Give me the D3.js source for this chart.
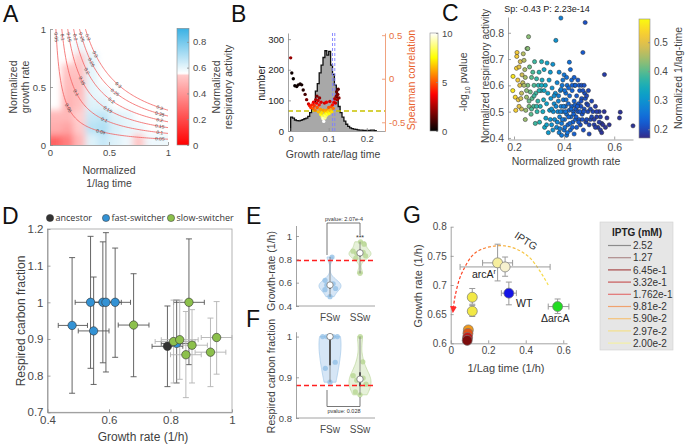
<!DOCTYPE html>
<html><head><meta charset="utf-8">
<script src="https://cdnjs.cloudflare.com/ajax/libs/d3/7.8.5/d3.min.js"></script>
<style>body{margin:0;background:#fff;overflow:hidden}</style>
</head><body>
<svg id="fig" width="685" height="445" xmlns="http://www.w3.org/2000/svg"></svg>
<script>
// ================= DATA =================
// ---- Panel A ----
const aAxisTicks = [0, 0.5, 1];
const aContourLevels = [0.05, 0.1, 0.15, 0.2, 0.25, 0.3];
const aCell = 0.1;
// rows: normalized growth rate bins (0..0.1, 0.1..0.2, ...); cols: normalized 1/lag bins
const aGrid = [
  [0.08, 0.18, 0.40, 0.64, 0.70, 0.64, 0.60, 0.46, 0.60, 0.60],
  [0.36, 0.32, 0.48, 0.74, 0.76, 0.66, 0.62, 0.60, null, null],
  [0.40, 0.40, 0.50, 0.70, 0.72, 0.64, 0.62, null, null, null],
  [null, 0.38, 0.44, 0.64, 0.64, null, null, null, null, null],
  [null, 0.40, 0.42, 0.62, 0.60, null, null, null, null, null],
  [null, 0.42, 0.42, 0.62, null, null, null, null, null, null],
  [null, 0.45, 0.45, 0.62, null, null, null, null, null, null],
  [null, null, 0.48, 0.62, null, null, null, null, null, null],
  [null, null, 0.60, null, null, null, null, null, null, null],
  [null, null, null, null, null, null, null, null, null, null]
];
const aCbarTicks = [0, 0.2, 0.4, 0.6, 0.8];

// ---- Panel B ----
const bBinStart = 0, bBinWidth = 0.005;
const bHistCounts = [45,42,36,34,33,35,37,40,42,48,60,72,95,130,155,190,215,240,262,248,260,215,185,150,110,80,60,45,32,22,15,10,8,6,5,4,3,3,2,2,2,2,3,3,1];
const bCorrX = [0.000,0.003,0.007,0.011,0.016,0.020,0.025,0.029,0.033,0.038,0.042,0.047,
  0.050,0.053,0.056,0.058,0.060,0.062,0.064,0.066,0.068,0.069,0.070,0.072,0.073,0.075,0.076,0.078,0.079,0.080,0.082,0.083,0.085,0.086,0.087,0.088,0.089,0.090,0.091,0.092,0.093,0.094,0.095,0.096,0.098,0.100,0.101,0.103,0.104,0.106,0.108,0.110,0.112,0.114,0.116,0.118,0.120,0.121,0.122,0.124,0.125,0.127];
const bCorrY = [0.24,0.065,0.00,-0.08,-0.09,-0.07,-0.06,-0.07,-0.13,-0.18,-0.24,-0.29,
  -0.31,-0.33,-0.30,-0.34,-0.27,-0.31,-0.36,-0.24,-0.28,-0.20,-0.33,-0.25,-0.38,-0.30,-0.22,-0.35,-0.41,-0.27,-0.39,-0.44,-0.46,-0.36,-0.49,-0.42,-0.28,-0.45,-0.38,-0.43,-0.40,-0.27,-0.36,-0.41,-0.38,-0.33,-0.40,-0.26,-0.36,-0.32,-0.38,-0.30,-0.34,-0.27,-0.23,-0.28,-0.20,-0.15,-0.24,-0.18,-0.12,-0.22];
const bCorrP = [2.2,0.2,0.1,0.1,0.2,0.2,0.3,0.3,0.5,1.0,1.8,3.0,
  4.0,4.5,4.2,5.0,3.5,4.5,5.5,2.5,3.5,1.8,5.0,3.0,6.5,4.0,2.2,6.0,7.5,3.2,7.0,8.5,9.5,6.0,10,8.0,3.0,9.0,6.5,8.5,7.5,3.5,6.0,8.0,7.0,5.0,7.5,3.0,6.5,5.0,7.0,4.0,5.5,3.5,2.5,3.0,2.0,1.5,2.5,1.8,1.2,2.0];
const bMeanLines = [0.110, 0.116];
const bThreshold = -0.37;
const bLeftTicks = [0, 100, 200, 300];
const bRightTicks = [-0.5, 0, 0.5];
const bXTicks = [0, 0.1, 0.2];
const bCbarTicks = [0, 5, 10];

// ---- Panel C ---- [growth rate, respiratory activity, 1/lag]
const cPoints = [
 [0.195,0.58,0.56],[0.196,0.634,0.56],[0.205,0.555,0.54],[0.207,0.505,0.53],[0.21,0.665,0.53],[0.211,0.71,0.52],[0.212,0.725,0.52],[0.215,0.62,0.52],[0.217,0.545,0.51],[0.22,0.67,0.5],[0.223,0.6,0.5],[0.225,0.69,0.49],[0.227,0.55,0.48],[0.23,0.51,0.48],[0.232,0.64,0.48],[0.235,0.61,0.47],[0.237,0.72,0.46],[0.24,0.695,0.46],[0.243,0.66,0.45],[0.245,0.63,0.45],[0.247,0.505,0.44],[0.25,0.555,0.44],[0.252,0.74,0.43],[0.255,0.74,0.43],
 [0.245,0.47,0.44],[0.255,0.6,0.42],[0.258,0.785,0.43],[0.26,0.52,0.42],[0.262,0.67,0.41],[0.265,0.575,0.41],[0.268,0.49,0.4],[0.27,0.63,0.4],[0.272,0.55,0.4],[0.275,0.65,0.39],[0.278,0.52,0.39],[0.28,0.6,0.39],[0.282,0.69,0.38],[0.285,0.455,0.38],[0.287,0.57,0.38],[0.29,0.625,0.37],[0.292,0.5,0.37],[0.295,0.54,0.37],[0.297,0.6,0.36],[0.3,0.65,0.36],
 [0.302,0.46,0.36],[0.305,0.52,0.35],[0.308,0.58,0.35],[0.31,0.69,0.35],[0.312,0.62,0.34],[0.315,0.5,0.34],[0.318,0.545,0.34],[0.32,0.66,0.33],[0.322,0.44,0.33],[0.325,0.6,0.33],[0.327,0.475,0.32],[0.33,0.53,0.32],[0.332,0.685,0.32],[0.335,0.57,0.32],[0.337,0.42,0.31],[0.34,0.62,0.31],[0.342,0.505,0.31],[0.345,0.65,0.31],[0.347,0.55,0.3],[0.35,0.45,0.3],[0.352,0.59,0.3],[0.355,0.68,0.3],[0.357,0.5,0.29],[0.36,0.53,0.29],[0.362,0.47,0.29],
 [0.365,0.57,0.29],[0.367,0.771,0.3],[0.37,0.44,0.28],[0.372,0.61,0.28],[0.375,0.5,0.28],[0.377,0.54,0.28],[0.38,0.42,0.27],[0.38,0.65,0.28],[0.382,0.48,0.27],[0.385,0.58,0.27],[0.387,0.856,0.27],[0.388,0.52,0.27],[0.39,0.455,0.26],[0.39,0.41,0.26],[0.392,0.6,0.26],[0.395,0.5,0.26],[0.397,0.545,0.26],[0.4,0.43,0.25],[0.4,0.64,0.26],[0.402,0.47,0.25],[0.405,0.52,0.25],[0.407,0.57,0.25],[0.41,0.41,0.25],[0.41,0.49,0.25],[0.412,0.6,0.25],[0.415,0.45,0.24],[0.417,0.53,0.24],[0.42,0.505,0.24],[0.421,0.688,0.25],[0.422,0.56,0.24],[0.425,0.43,0.24],[0.427,0.48,0.24],[0.43,0.62,0.24],[0.43,0.52,0.23],[0.432,0.58,0.23],[0.435,0.46,0.23],[0.437,0.5,0.23],[0.44,0.54,0.23],[0.44,0.415,0.23],[0.442,0.6,0.23],[0.445,0.47,0.23],[0.447,0.51,0.22],[0.45,0.56,0.22],[0.45,0.44,0.22],
 [0.455,0.5,0.22],[0.457,0.53,0.22],[0.46,0.47,0.22],[0.462,0.58,0.22],[0.465,0.45,0.21],[0.467,0.52,0.21],[0.47,0.55,0.21],[0.472,0.49,0.21],[0.475,0.725,0.22],[0.477,0.43,0.21],[0.48,0.51,0.21],[0.482,0.57,0.21],[0.484,0.839,0.21],[0.487,0.46,0.2],[0.49,0.53,0.2],[0.495,0.5,0.2],[0.5,0.415,0.2],[0.505,0.47,0.2],[0.51,0.54,0.2],[0.515,0.5,0.2],[0.52,0.45,0.19],[0.525,0.52,0.19],[0.53,0.48,0.19],[0.535,0.44,0.19],[0.54,0.5,0.19],[0.545,0.43,0.19],[0.55,0.455,0.19],[0.561,0.641,0.19],[0.571,0.476,0.18],[0.621,0.476,0.18],[0.624,0.498,0.18],[0.675,0.446,0.18],
 [0.368,0.52,0.28],[0.373,0.46,0.28],[0.378,0.56,0.27],[0.383,0.435,0.27],[0.386,0.5,0.27],[0.393,0.47,0.26],[0.398,0.52,0.26],[0.403,0.44,0.25],[0.406,0.5,0.25],[0.408,0.545,0.25],[0.413,0.42,0.25],[0.418,0.48,0.24],[0.423,0.455,0.24],[0.428,0.51,0.24],[0.433,0.44,0.23],[0.438,0.49,0.23],[0.443,0.525,0.23],[0.448,0.48,0.22],[0.453,0.52,0.22],[0.458,0.46,0.22],[0.463,0.5,0.22],[0.468,0.54,0.21],[0.473,0.47,0.21],[0.478,0.5,0.21],[0.485,0.55,0.21],[0.49,0.47,0.2],[0.495,0.525,0.2],[0.5,0.45,0.2],[0.505,0.51,0.2],[0.51,0.48,0.2],
 [0.388,0.585,0.27],[0.395,0.62,0.26],[0.402,0.58,0.25],[0.41,0.63,0.25],[0.418,0.59,0.24],[0.425,0.66,0.24],[0.432,0.6,0.23],[0.44,0.63,0.23],[0.445,0.6,0.23],[0.455,0.62,0.22],[0.46,0.6,0.22],[0.47,0.6,0.21],[0.475,0.58,0.21],[0.48,0.6,0.21],[0.49,0.56,0.2],[0.497,0.58,0.2],
 [0.345,0.47,0.3],[0.35,0.51,0.3],[0.355,0.43,0.3],[0.36,0.56,0.29],[0.33,0.45,0.32],[0.32,0.58,0.33],[0.31,0.6,0.34],[0.3,0.58,0.36],[0.29,0.52,0.37],[0.28,0.56,0.38],[0.27,0.51,0.39],[0.26,0.54,0.41],[0.25,0.58,0.43],[0.24,0.6,0.45],[0.23,0.57,0.47],[0.22,0.52,0.5],
 [0.52,0.47,0.19],[0.525,0.44,0.19],[0.53,0.5,0.19],[0.54,0.46,0.19],[0.545,0.48,0.19],[0.55,0.42,0.18],[0.555,0.45,0.18],[0.56,0.5,0.18],[0.565,0.44,0.18],[0.58,0.45,0.18]
];
const cXTicks = [0.2, 0.4, 0.6];
const cYTicks = [0.4, 0.5, 0.6, 0.7, 0.8];
const cCbarTicks = [0.2, 0.3, 0.4, 0.5];
const cTitle = "Sp: -0.43 P: 2.23e-14";

// ---- Panel D ----
const dGroups = ["ancestor", "fast-switcher", "slow-switcher"];
const dGroup = ["ancestor","fast-switcher","fast-switcher","fast-switcher","fast-switcher","fast-switcher","fast-switcher","fast-switcher",
  "slow-switcher","slow-switcher","slow-switcher","slow-switcher","slow-switcher","slow-switcher","slow-switcher","slow-switcher"];
const dGrowth = [0.79, 0.48, 0.54, 0.55, 0.58, 0.59, 0.62, 0.82, 0.68, 0.86, 0.81, 0.83, 0.85, 0.87, 0.93, 0.95];
const dGrowthLo = [0.74, 0.435, 0.49, 0.50, 0.54, 0.55, 0.58, 0.77, 0.63, 0.81, 0.75, 0.77, 0.80, 0.82, 0.88, 0.90];
const dGrowthHi = [0.84, 0.53, 0.59, 0.60, 0.63, 0.64, 0.67, 0.87, 0.73, 0.91, 0.88, 0.89, 0.90, 0.92, 0.98, 1.00];
const dResp = [0.880, 0.937, 1.0, 0.922, 1.0, 1.0, 1.0, 0.888, 0.938, 1.0, 0.893, 0.898, 0.857, 0.883, 0.864, 0.904];
const dRespLo = [0.77, 0.752, 0.82, 0.776, 0.835, 0.81, 0.85, 0.78, 0.797, 0.83, 0.78, 0.79, 0.74, 0.78, 0.77, 0.804];
const dRespHi = [0.99, 1.122, 1.18, 1.069, 1.165, 1.19, 1.148, 1.006, 1.078, 1.173, 1.006, 1.006, 0.975, 0.98, 0.957, 1.002];
const dXTicks = [0.4, 0.6, 0.8, 1];
const dYTicks = [0.7, 0.8, 0.9, 1, 1.1, 1.2];

// ---- Panels E/F ----
const efCategories = ["FSw", "SSw"];
const eThreshold = 0.79, fThreshold = 0.88;
const eYTicks = [0.4, 0.6, 0.8, 1];
const fYTicks = [0.8, 0.9, 1];
const ePText = "pvalue: 2.07e-4", fPText = "pvalue: 0.028";

// ---- Panel G ----
const gLag = [0.25, 0.29, 0.31, 0.57, 0.115, 0.115, 0.094, 0.092, 0.090, 0.088];
const gLagLo = [0.17, 0.05, 0.27, 0.52, 0.108, 0.108, null, null, null, null];
const gLagHi = [0.33, 0.53, 0.35, 0.63, 0.122, 0.122, null, null, null, null];
const gGrowth = [0.738, 0.731, 0.686, 0.663, 0.679, 0.655, 0.623, 0.617, 0.610, 0.605];
const gGrowthLo = [0.707, 0.715, 0.666, 0.651, 0.667, 0.646, null, null, null, null];
const gGrowthHi = [0.770, 0.748, 0.705, 0.676, 0.694, 0.665, null, null, null, null];
const gArc = [[0.52,0.700],[0.414,0.749],[0.29,0.767],[0.139,0.757],[0.059,0.72],[0.023,0.68],[0.014,0.66]];
const gXTicks = [0, 0.2, 0.4, 0.6];
const gYTicks = [0.6, 0.65, 0.7, 0.75, 0.8];
const gLegendTitle = "IPTG (mM)";
const gLegendLabels = ["2.52","1.27","6.45e-1","3.32e-1","1.762e-1","9.81e-2","5.90e-2","2.97e-2","2.00e-2"];

// ================= STYLES =================
const FONT = '"Liberation Sans", Arial, Helvetica, sans-serif';
const AX = '#8c8c8c', TX = '#4a4a4a', LB = '#3f3f3f';
const dColors = {"ancestor":"#333333","fast-switcher":"#3392d4","slow-switcher":"#8cc04c"};
const efFill = {"FSw":"#cfe2f4","SSw":"#e2eed2"};
const efStroke = {"FSw":"#a9cbea","SSw":"#c3dba6"};
const efDot = {"FSw":"#8dbde6","SSw":"#b4d48e"};
const gColors = ["#f6ee9e","#f6f1cf","#1414e6","#22dd22","#f2e845","#f2e845","#f29a1a","#e0541a","#c41a1a","#7d0c0c"];
const gLegendColors = ["#8c8c8c","#ae8c8c","#a84a4a","#c85858","#e27272","#f0a26e","#f4c27a","#f4e08a","#f4f0a4"];

// ================= HELPERS =================
const svg = d3.select('#fig').attr('font-family', FONT);
const defs = svg.append('defs');

function axis(g, kind, scale, ticks, o = {}) {
  const gen = {left: d3.axisLeft, right: d3.axisRight, bottom: d3.axisBottom, top: d3.axisTop}[kind](scale)
    .tickValues(ticks).tickFormat(o.fmt || (d => String(d)))
    .tickSizeInner(o.inner === undefined ? -3 : o.inner).tickSizeOuter(0).tickPadding(o.pad || 4);
  const a = g.append('g').attr('transform', o.tr || null).call(gen);
  a.attr('font-family', null).attr('font-size', null);
  a.select('.domain').attr('stroke', o.color || AX).attr('stroke-width', 0.8);
  a.selectAll('.tick line').attr('stroke', o.color || AX).attr('stroke-width', 0.8);
  a.selectAll('.tick text').attr('fill', o.textColor || TX).attr('font-size', o.fs || 10);
  return a;
}
function text(g, s, x, y, o = {}) {
  const t = g.append('text').attr('x', x).attr('y', y).attr('text-anchor', o.anchor || 'middle')
    .attr('font-size', o.fs || 11).attr('fill', o.fill || LB).text(s);
  if (o.rot !== undefined) t.attr('transform', `rotate(${o.rot},${x},${y})`);
  if (o.weight) t.attr('font-weight', o.weight);
  if (o.family) t.attr('font-family', o.family);
  return t;
}
function vgrad(id, fn, n) {
  const lg = defs.append('linearGradient').attr('id', id).attr('x1', 0).attr('y1', 1).attr('x2', 0).attr('y2', 0);
  for (let i = 0; i <= n; i++) lg.append('stop').attr('offset', i / n).attr('stop-color', fn(i / n));
}
function panelLetter(s, x, y) {
  text(svg, s, x, y, {anchor: 'start', fs: 23, fill: '#111'});
}
const parulaStops = ['#352a87','#0f5cdd','#1481d6','#06a4ca','#2eb7a4','#87bf77','#d1bb59','#fec832','#f9fb0e'];
const parulaI = d3.interpolateRgbBasis(parulaStops);
const parula = t => parulaI(Math.max(0, Math.min(1, t)));
const hot = t => { t = Math.max(0, Math.min(1, t));
  const r = Math.min(1, t / 0.375), g = Math.max(0, Math.min(1, (t - 0.375) / 0.375)), b = Math.max(0, (t - 0.75) / 0.25);
  return d3.rgb(r * 255, g * 255, b * 255).formatHex(); };

// ================= PANEL A =================
{
  const g = svg.append('g');
  const xA = d3.scaleLinear([0, 1], [50, 168]), yA = d3.scaleLinear([0, 1], [145, 29]);
  const colA = d3.scaleLinear([0, 0.54, 0.555, 0.905], ['#ff0000', '#ffcaca', '#ffffff', '#39b1e4']).clamp(true);
  defs.append('clipPath').attr('id', 'clipA').append('rect').attr('x', 50).attr('y', 29).attr('width', 118).attr('height', 116);
  const f = defs.append('filter').attr('id', 'blurA').attr('x', '-20%').attr('y', '-20%').attr('width', '140%').attr('height', '140%');
  f.append('feGaussianBlur').attr('stdDeviation', 3);
  const cells = [];
  aGrid.forEach((row, r) => row.forEach((v, c) => { if (v !== null) cells.push({r, c, v}); }));
  const nC = aGrid[0].length, nR = aGrid.length;
  g.append('g').attr('clip-path', 'url(#clipA)').append('g').attr('filter', 'url(#blurA)').attr('opacity', 0.68)
    .selectAll('rect').data(cells).join('rect')
    .attr('x', d => xA(d.c * aCell) - (d.c === 0 ? 8 : 0))
    .attr('width', d => xA(aCell) - xA(0) + 0.6 + (d.c === 0 ? 8 : 0) + (d.c === nC - 1 ? 8 : 0))
    .attr('y', d => yA((d.r + 1) * aCell) - (d.r === nR - 1 ? 8 : 0))
    .attr('height', d => yA(0) - yA(aCell) + 0.6 + (d.r === 0 ? 8 : 0))
    .attr('fill', d => colA(d.v));
  // contours  x*y = level
  const line = d3.line().x(d => xA(d[0])).y(d => yA(d[1]));
  const cg = g.append('g').attr('clip-path', 'url(#clipA)');
  aContourLevels.forEach(c => {
    const pts = d3.range(0, 81).map(i => { const x = c + (1 - c) * Math.pow(i / 80, 1.6); return [x, c / x]; });
    cg.append('path').attr('d', line(pts)).attr('fill', 'none').attr('stroke', '#f26060').attr('stroke-width', 0.8);
    const xs = [c / 0.93, 0.7 * Math.sqrt(c), 0.4 + 0.6 * c, 0.93];
    xs.forEach(x => {
      const y = c / x;
      const ang = Math.atan2(116 * c / (x * x), 118) * 180 / Math.PI;
      g.append('text').attr('transform', `translate(${xA(x)},${yA(y)}) rotate(${ang})`)
        .attr('text-anchor', 'middle').attr('dy', 1.7).attr('font-size', 4.8).attr('fill', '#444').text(String(c));
    });
  });
  axis(g, 'left', yA, aAxisTicks, {tr: 'translate(50,0)', fs: 9.5});
  axis(g, 'bottom', xA, aAxisTicks, {tr: 'translate(0,145)', fs: 9.5});
  text(g, 'Normalized', 17, 87, {rot: -90, fs: 10.5});
  text(g, 'growth rate', 29, 87, {rot: -90, fs: 10.5});
  text(g, 'Normalized', 109, 174, {fs: 10.5});
  text(g, '1/lag time', 109, 187, {fs: 10.5});
  // colorbar
  const cbY = d3.scaleLinear([0, 0.905], [145, 28.3]);
  vgrad('gradA', t => colA(t * 0.905), 200);
  g.append('rect').attr('x', 177).attr('y', 28.3).attr('width', 12).attr('height', 145 - 28.3).attr('fill', 'url(#gradA)').attr('stroke', AX).attr('stroke-width', 0.6);
  axis(g, 'right', cbY, aCbarTicks, {tr: 'translate(189,0)', inner: -2, fs: 9.5}).select('.domain').remove();
  text(g, 'Normalized', 220, 87, {rot: -90, fs: 10.5});
  text(g, 'respiratory activity', 232, 87, {rot: -90, fs: 10.5});
  panelLetter('A', 3, 22);
}

// ================= PANEL B =================
{
  const g = svg.append('g');
  const xB = d3.scaleLinear([-0.007, 0.248], [288, 385]);
  const yBL = d3.scaleLinear([0, 320], [131, 33]);
  const yBR = d3.scaleLinear([-0.6, 0.525], [131, 33]);
  let p = `M${xB(bBinStart)},${yBL(0)}`;
  bHistCounts.forEach((n, i) => {
    const x0 = bBinStart + i * bBinWidth, x1 = x0 + bBinWidth;
    p += `L${xB(x0)},${yBL(n)}L${xB(x1)},${yBL(n)}`;
  });
  p += `L${xB(bBinStart + bHistCounts.length * bBinWidth)},${yBL(0)}`;
  g.append('path').attr('d', p + 'Z').attr('fill', '#a8a8a8').attr('stroke', 'none');
  g.append('path').attr('d', p).attr('fill', 'none').attr('stroke', '#111').attr('stroke-width', 1.3);
  bMeanLines.forEach(v => g.append('line').attr('x1', xB(v)).attr('x2', xB(v)).attr('y1', 33).attr('y2', 131)
    .attr('stroke', '#7f7fff').attr('stroke-width', 0.9).attr('stroke-dasharray', '3,2'));
  g.append('line').attr('x1', 288).attr('x2', 385).attr('y1', yBR(bThreshold)).attr('y2', yBR(bThreshold))
    .attr('stroke', '#c9c200').attr('stroke-width', 1.4).attr('stroke-dasharray', '5,3');
  g.selectAll('circle.bc').data(bCorrX.map((x, i) => ({x, y: bCorrY[i], p: bCorrP[i]}))).join('circle')
    .attr('cx', d => xB(d.x)).attr('cy', d => yBR(d.y)).attr('r', 1.7).attr('fill', d => hot(d.p / 10));
  axis(g, 'left', yBL, bLeftTicks, {tr: 'translate(288,0)', textColor: '#222', fs: 9.5});
  axis(g, 'bottom', xB, bXTicks, {tr: 'translate(0,131)', fs: 9.5});
  axis(g, 'right', yBR, bRightTicks, {tr: 'translate(385,0)', color: '#ec8a5e', textColor: '#e8703e', fs: 9.5});
  text(g, 'number', 265, 83, {rot: -90, fs: 10.5, fill: '#222'});
  text(g, 'Spearman correlation', 415, 80, {rot: -90, fs: 10.5, fill: '#e8622e'});
  text(g, 'Growth rate/lag time', 333, 158, {fs: 10.5});
  // colorbar
  const cbY = d3.scaleLinear([0, 10], [131, 33]);
  vgrad('gradB', hot, 60);
  g.append('rect').attr('x', 430).attr('y', 33).attr('width', 8).attr('height', 98).attr('fill', 'url(#gradB)').attr('stroke', AX).attr('stroke-width', 0.6);
  axis(g, 'right', cbY, bCbarTicks, {tr: 'translate(438,0)', inner: -2, fs: 9.5}).select('.domain').remove();
  const t = g.append('text').attr('transform', 'translate(467,82) rotate(-90)').attr('text-anchor', 'middle').attr('font-size', 10.5).attr('fill', LB);
  t.append('tspan').text('-log');
  t.append('tspan').attr('font-size', 7).attr('dy', 3).text('10');
  t.append('tspan').attr('dy', -3).text(' pvalue');
  panelLetter('B', 231, 22);
}

// ================= PANEL C =================
{
  const g = svg.append('g');
  const xC = d3.scaleLinear([0.176, 0.675], [508, 633]);
  const yC = d3.scaleLinear([0.394, 0.86], [139.5, 17]);
  const cN = d3.scaleLinear([0.17, 0.58], [0, 1]);
  g.selectAll('circle').data(cPoints).join('circle')
    .attr('cx', d => xC(d[0])).attr('cy', d => yC(d[1])).attr('r', 2.1)
    .attr('fill', d => parula(cN(d[2]))).attr('stroke', '#2a2a2a').attr('stroke-width', 0.5);
  axis(g, 'left', yC, cYTicks, {tr: 'translate(508,0)', fs: 10.5});
  axis(g, 'bottom', xC, cXTicks, {tr: 'translate(0,139.5)', fs: 10.5});
  text(g, 'Normalized respiratory activity', 489, 76, {rot: -90, fs: 10});
  text(g, 'Normalized growth rate', 566, 165, {fs: 10.5});
  text(g, cTitle, 547, 12, {fs: 9, fill: '#222'});
  const cbY = d3.scaleLinear([0.17, 0.58], [138, 19]);
  vgrad('gradC', parula, 60);
  g.append('rect').attr('x', 639).attr('y', 19).attr('width', 11).attr('height', 119).attr('fill', 'url(#gradC)').attr('stroke', AX).attr('stroke-width', 0.6);
  axis(g, 'right', cbY, cCbarTicks, {tr: 'translate(650,0)', inner: -2, fs: 10}).select('.domain').remove();
  text(g, 'Normalized 1/lag-time', 682, 78, {rot: -90, fs: 10.5});
  panelLetter('C', 442, 21);
}

// ================= PANEL D =================
{
  const g = svg.append('g');
  const xD = d3.scaleLinear([0.4, 1], [47.5, 232]);
  const yD = d3.scaleLinear([0.7, 1.2], [412.3, 229]);
  g.append('rect').attr('x', 47.5).attr('y', 229).attr('width', 232 - 47.5).attr('height', 412.3 - 229)
    .attr('fill', 'none').attr('stroke', '#a0a0a0').attr('stroke-width', 0.8);
  axis(g, 'left', yD, dYTicks, {tr: 'translate(47.5,0)', fs: 11.5});
  axis(g, 'bottom', xD, dXTicks, {tr: 'translate(0,412.3)', fs: 11.5});
  const pts = dGrowth.map((x, i) => ({x, y: dResp[i], xl: dGrowthLo[i], xh: dGrowthHi[i], yl: dRespLo[i], yh: dRespHi[i], grp: dGroup[i]}));
  const eb = g.append('g');
  pts.forEach(d => {
    const col = (d.grp === 'slow-switcher' && d.x > 0.8 && d.y < 0.95) ? '#b3b3b3' : '#555';
    const cx = xD(d.x), cy = yD(d.y);
    eb.append('line').attr('x1', cx).attr('x2', cx).attr('y1', yD(d.yl)).attr('y2', yD(d.yh)).attr('stroke', col).attr('stroke-width', 0.9);
    [d.yl, d.yh].forEach(v => eb.append('line').attr('x1', cx - 3).attr('x2', cx + 3).attr('y1', yD(v)).attr('y2', yD(v)).attr('stroke', col).attr('stroke-width', 0.9));
    eb.append('line').attr('x1', xD(d.xl)).attr('x2', xD(d.xh)).attr('y1', cy).attr('y2', cy).attr('stroke', col).attr('stroke-width', 0.9);
    [d.xl, d.xh].forEach(v => eb.append('line').attr('x1', xD(v)).attr('x2', xD(v)).attr('y1', cy - 2.5).attr('y2', cy + 2.5).attr('stroke', col).attr('stroke-width', 0.9));
  });
  g.selectAll('circle.pt').data(pts).join('circle').attr('cx', d => xD(d.x)).attr('cy', d => yD(d.y)).attr('r', 4.2)
    .attr('fill', d => dColors[d.grp]).attr('stroke', '#333').attr('stroke-width', 0.6);
  const lx = [50, 106, 171];
  dGroups.forEach((s, i) => {
    g.append('circle').attr('cx', lx[i]).attr('cy', 218).attr('r', 3.6).attr('fill', dColors[s]).attr('stroke', '#333').attr('stroke-width', 0.5);
    text(g, s, lx[i] + 5.5, 221.2, {anchor: 'start', fs: 9, fill: '#333', family: '"Open Sans", sans-serif'});
  });
  text(g, 'Respired carbon fraction', 25, 321, {rot: -90, fs: 12});
  text(g, 'Growth rate (1/h)', 143, 441, {fs: 12});
  panelLetter('D', 2, 224);
}

// ================= PANELS E & F =================
function kde(vals, bw, lo, hi, n) {
  return d3.range(n + 1).map(i => { const y = lo + (hi - lo) * i / n;
    return [y, d3.sum(vals, v => Math.exp(-0.5 * ((y - v) / bw) ** 2))]; });
}
function violinPanel(g, yS, vals, bws, halfW) {
  const xE = d3.scalePoint().domain(efCategories).range([330, 360]);
  efCategories.forEach((cat, k) => {
    const v = vals[cat].slice().sort(d3.ascending);
    const lo = d3.min(v), hi = d3.max(v);
    const dens = kde(v, bws[k], lo, hi, 50);
    const mx = d3.max(dens, d => d[1]);
    const cx = xE(cat);
    const area = d3.area().y(d => yS(d[0])).x0(d => cx - halfW * d[1] / mx).x1(d => cx + halfW * d[1] / mx).curve(d3.curveBasis);
    g.append('path').attr('d', area(dens)).attr('fill', efFill[cat]).attr('fill-opacity', 0.85).attr('stroke', efStroke[cat]).attr('stroke-width', 0.8);
    v.forEach((val, i) => {
      const dd = d3.sum(v, u => Math.exp(-0.5 * ((val - u) / bws[k]) ** 2)) / mx;
      const off = [0, -0.55, 0.55, -0.3, 0.3, -0.7, 0.7, 0.1][i % 8] * halfW * dd;
      g.append('circle').attr('cx', cx + off).attr('cy', yS(val)).attr('r', 2.6).attr('fill', efDot[cat]).attr('fill-opacity', 0.75);
    });
    const q1 = d3.quantile(v, 0.25), q3 = d3.quantile(v, 0.75), med = d3.median(v);
    g.append('line').attr('x1', cx).attr('x2', cx).attr('y1', yS(lo)).attr('y2', yS(hi)).attr('stroke', '#777').attr('stroke-width', 0.8);
    g.append('line').attr('x1', cx).attr('x2', cx).attr('y1', yS(q1)).attr('y2', yS(q3)).attr('stroke', '#555').attr('stroke-width', 2);
    g.append('circle').attr('cx', cx).attr('cy', yS(med)).attr('r', 3.2).attr('fill', '#fff').attr('stroke', '#777').attr('stroke-width', 0.8);
  });
  return xE;
}
{
  const byGroup = (arr, grp) => arr.filter((_, i) => dGroup[i] === grp);
  const g = svg.append('g');
  const yE = d3.scaleLinear([0.4, 1.09], [306, 225.5]);
  const xE = violinPanel(g, yE, {FSw: byGroup(dGrowth, 'fast-switcher'), SSw: byGroup(dGrowth, 'slow-switcher')}, [0.035, 0.035], 11);
  g.append('line').attr('x1', 296).attr('x2', 375).attr('y1', yE(eThreshold)).attr('y2', yE(eThreshold))
    .attr('stroke', '#ff1f1f').attr('stroke-width', 1.5).attr('stroke-dasharray', '5,3');
  axis(g, 'left', yE, eYTicks, {tr: 'translate(296,0)', fs: 9.5});
  g.append('line').attr('x1', 296).attr('x2', 375).attr('y1', 306).attr('y2', 306).attr('stroke', AX).attr('stroke-width', 0.8);
  efCategories.forEach(c => text(g, c, xE(c), 321, {fs: 10, fill: TX}));
  g.append('path').attr('d', `M327,255V223H360V235`).attr('fill', 'none').attr('stroke', '#555').attr('stroke-width', 0.8);
  text(g, ePText, 344, 221, {fs: 5.5, fill: '#333'});
  text(g, '***', 360, 240, {fs: 7, fill: '#333'});
  text(g, 'Growth-rate (1/h)', 275, 271, {rot: -90, fs: 10.5});
  panelLetter('E', 246, 224);

  const g2 = svg.append('g');
  const yF = d3.scaleLinear([0.8, 1.012], [418, 331.7]);
  violinPanel(g2, yF, {FSw: byGroup(dResp, 'fast-switcher'), SSw: byGroup(dResp, 'slow-switcher')}, [0.05, 0.022], 11);
  g2.append('line').attr('x1', 296).attr('x2', 375).attr('y1', yF(fThreshold)).attr('y2', yF(fThreshold))
    .attr('stroke', '#ff1f1f').attr('stroke-width', 1.5).attr('stroke-dasharray', '5,3');
  axis(g2, 'left', yF, fYTicks, {tr: 'translate(296,0)', fs: 9.5});
  g2.append('line').attr('x1', 296).attr('x2', 375).attr('y1', 418).attr('y2', 418).attr('stroke', AX).attr('stroke-width', 0.8);
  efCategories.forEach(c => text(g2, c, xE(c), 433, {fs: 10, fill: TX}));
  g2.append('path').attr('d', `M327,390V406.5H360V397`).attr('fill', 'none').attr('stroke', '#555').attr('stroke-width', 0.8);
  text(g2, fPText, 344, 412.5, {fs: 5.5, fill: '#333'});
  text(g2, 'Respired carbon fraction', 275, 376, {rot: -90, fs: 10.5});
  panelLetter('F', 246, 327);
}

// ================= PANEL G =================
{
  const g = svg.append('g');
  const xG = d3.scaleLinear([0, 0.62], [450.7, 567]);
  const yG = d3.scaleLinear([0.6, 0.8], [343.3, 226.7]);
  axis(g, 'left', yG, gYTicks, {tr: 'translate(450.7,0)', fs: 10});
  axis(g, 'bottom', xG, gXTicks, {tr: 'translate(0,343.3)', fs: 10});
  // IPTG arc
  const gr = defs.append('linearGradient').attr('id', 'gArcGrad').attr('gradientUnits', 'userSpaceOnUse')
    .attr('x1', xG(0.52)).attr('y1', 0).attr('x2', xG(0.014)).attr('y2', 0);
  [['0', '#f6e04c'], ['0.5', '#f6ac3e'], ['1', '#ff2a1e']].forEach(s => gr.append('stop').attr('offset', s[0]).attr('stop-color', s[1]));
  const mk = defs.append('marker').attr('id', 'arrG').attr('viewBox', '0 0 10 10').attr('refX', 3).attr('refY', 5)
    .attr('markerWidth', 7).attr('markerHeight', 7).attr('markerUnits', 'userSpaceOnUse').attr('orient', 'auto');
  mk.append('path').attr('d', 'M0,0L10,5L0,10z').attr('fill', '#ff2a2a');
  const arc = d3.line().x(d => xG(d[0])).y(d => yG(d[1])).curve(d3.curveCatmullRom);
  g.append('path').attr('d', arc(gArc)).attr('fill', 'none').attr('stroke', 'url(#gArcGrad)').attr('stroke-width', 1.2)
    .attr('stroke-dasharray', '3,2').attr('marker-end', 'url(#arrG)');
  text(g, 'IPTG', 524, 244, {rot: 33, fs: 10.5, fill: '#333'});
  const pts = gLag.map((x, i) => ({x, y: gGrowth[i], xl: gLagLo[i], xh: gLagHi[i], yl: gGrowthLo[i], yh: gGrowthHi[i], col: gColors[i]}));
  pts.forEach(d => {
    const cx = xG(d.x), cy = yG(d.y), col = '#9a9a9a';
    if (d.yl !== null) {
      g.append('line').attr('x1', cx).attr('x2', cx).attr('y1', yG(d.yl)).attr('y2', yG(d.yh)).attr('stroke', col).attr('stroke-width', 1);
      [d.yl, d.yh].forEach(v => g.append('line').attr('x1', cx - 3).attr('x2', cx + 3).attr('y1', yG(v)).attr('y2', yG(v)).attr('stroke', col).attr('stroke-width', 1));
    }
    if (d.xl !== null) {
      g.append('line').attr('x1', xG(d.xl)).attr('x2', xG(d.xh)).attr('y1', cy).attr('y2', cy).attr('stroke', col).attr('stroke-width', 1);
      [d.xl, d.xh].forEach(v => g.append('line').attr('x1', xG(v)).attr('x2', xG(v)).attr('y1', cy - 3).attr('y2', cy + 3).attr('stroke', col).attr('stroke-width', 1));
    }
  });
  g.selectAll('circle.gp').data(pts).join('circle').attr('cx', d => xG(d.x)).attr('cy', d => yG(d.y)).attr('r', 5)
    .attr('fill', d => d.col).attr('stroke', '#777').attr('stroke-width', 0.7);
  const ta = text(g, 'arcA', 472, 278, {anchor: 'start', fs: 10.5, fill: '#222'});
  ta.append('tspan').attr('font-size', 7).attr('dy', -4).text('r');
  text(g, 'WT', 516, 307, {anchor: 'start', fs: 10.5, fill: '#222'});
  text(g, 'ΔarcA', 541, 322, {anchor: 'start', fs: 10.5, fill: '#222'});
  text(g, 'Growth rate (1/h)', 422, 286, {rot: -90, fs: 11});
  text(g, '1/Lag time (1/h)', 506, 372, {fs: 11});
  // legend
  g.append('rect').attr('x', 600).attr('y', 222).attr('width', 73).attr('height', 128).attr('fill', '#e6e6e6').attr('stroke', '#d0d0d0').attr('stroke-width', 0.6);
  text(g, gLegendTitle, 637, 236, {fs: 10, weight: 'bold', fill: '#222'});
  gLegendLabels.forEach((s, i) => {
    const y = 245.5 + i * 12.2;
    g.append('line').attr('x1', 608).attr('x2', 631).attr('y1', y).attr('y2', y).attr('stroke', gLegendColors[i]).attr('stroke-width', 1.2);
    text(g, s, 633, y + 3.6, {anchor: 'start', fs: 10, fill: '#333'});
  });
  panelLetter('G', 403, 223);
}
</script>
</body></html>
